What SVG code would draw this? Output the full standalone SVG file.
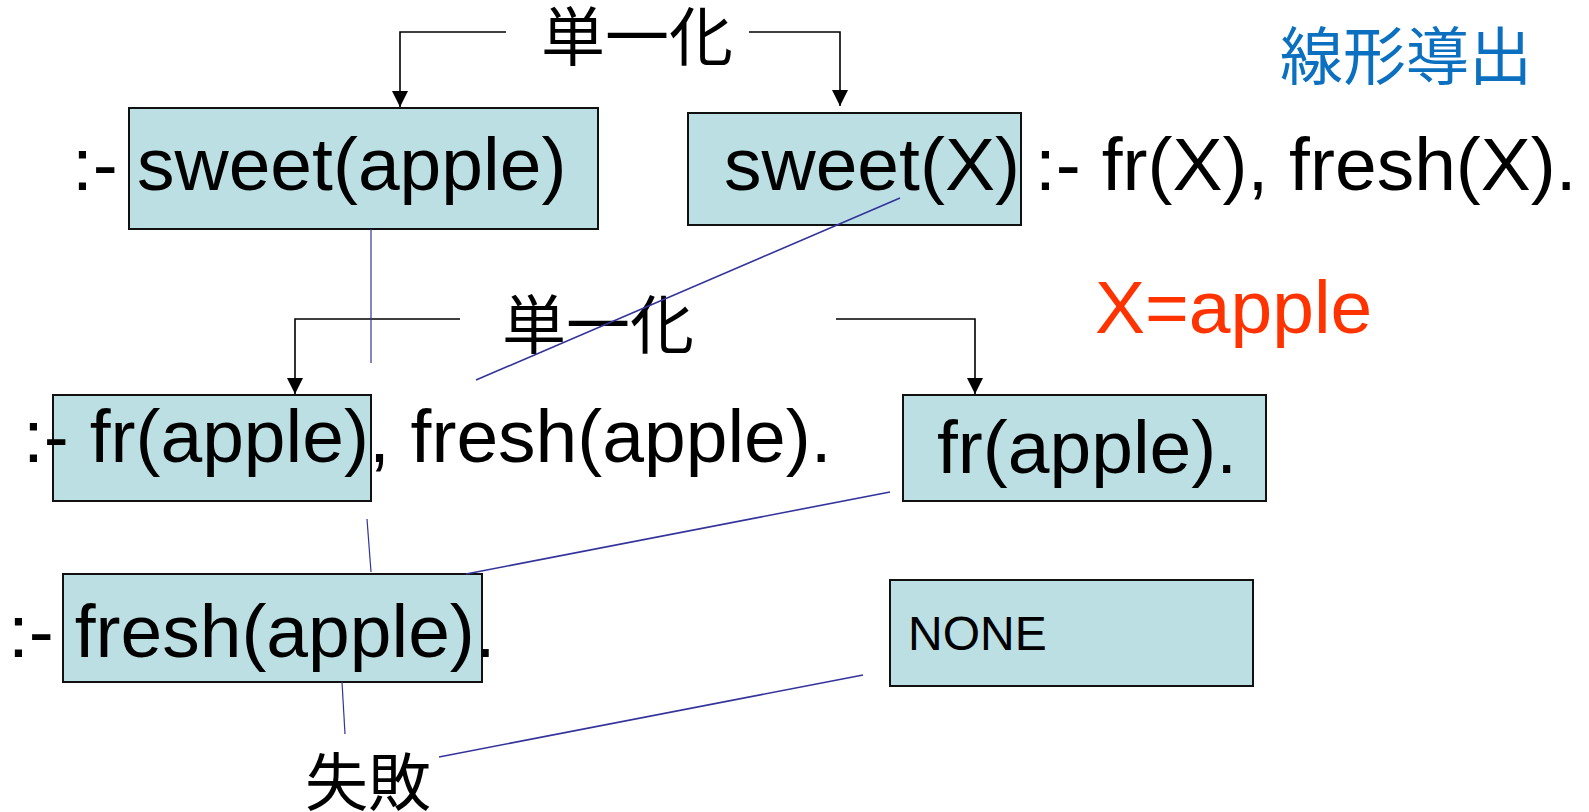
<svg xmlns="http://www.w3.org/2000/svg" width="1589" height="812" viewBox="0 0 1589 812">
  <style>
    .box { fill: #bbdfe3; stroke: #111; stroke-width: 2; }
    .term { font-family: "Liberation Sans", Arial, sans-serif; font-size: 75px; fill: #000; }
    .small { font-family: "Liberation Sans", Arial, sans-serif; font-size: 48px; fill: #000; }
    .jp { font-family: "Noto Sans CJK JP", "Noto Sans CJK SC", sans-serif; font-size: 64px; fill: #000; }
    .arrow { fill: none; stroke: #000; stroke-width: 1.6; marker-end: url(#head); }
    .link { fill: none; stroke: #33339c; stroke-width: 1.6; }
  </style>
  <defs>
    <marker id="head" markerUnits="userSpaceOnUse" markerWidth="16" markerHeight="18" refX="16" refY="8" orient="auto">
      <path d="M0,0 L16,8 L0,16 Z" fill="#000"/>
    </marker>
  </defs>

  <rect width="1589" height="812" fill="#fff"/>

  <!-- goal: sweet(apple) -->
  <g id="goal-sweet">
    <rect class="box" x="129" y="108" width="469" height="121"/>
    <text class="term" x="72" y="190">:-</text>
    <text class="term" x="137" y="190">sweet(apple)</text>
  </g>

  <!-- program clause head: sweet(X) -->
  <g id="clause-sweet">
    <rect class="box" x="688" y="113" width="333" height="112"/>
    <text class="term" x="724" y="190">sweet(X)</text>
    <text class="term" x="1035" y="190">:- fr(X), fresh(X).</text>
  </g>

  <!-- resolvent: fr(apple), fresh(apple) -->
  <g id="goal-fr">
    <rect class="box" x="53" y="395" width="318" height="106"/>
    <text class="term" x="23" y="462">:- fr(apple), fresh(apple).</text>
  </g>

  <!-- fact: fr(apple). -->
  <g id="fact-fr">
    <rect class="box" x="903" y="395" width="363" height="106"/>
    <text class="term" x="937" y="473">fr(apple).</text>
  </g>

  <!-- goal: fresh(apple) -->
  <g id="goal-fresh">
    <rect class="box" x="63" y="574" width="419" height="108"/>
    <text class="term" x="8" y="657">:- fresh(apple).</text>
  </g>

  <!-- no matching clause -->
  <g id="none">
    <rect class="box" x="890" y="580" width="363" height="106"/>
    <text class="small" x="908" y="650">NONE</text>
  </g>

  <!-- annotations -->
  <g id="labels">
    <text class="jp" x="541" y="60">単一化</text>
    <text class="jp" x="502" y="348">単一化</text>
    <text class="jp" x="1280" y="79" style="font-size:63px; fill:#0c70c0">線形導出</text>
    <text class="term" x="1095" y="333" style="fill:#ff3300">X=apple</text>
    <text class="jp" x="305" y="805" style="font-size:63px">失敗</text>
  </g>

  <!-- connectors -->
  <g id="connectors">
    <path class="arrow" d="M506,32 H400 V107"/>
    <path class="arrow" d="M749,32 H840 V106"/>
    <path class="arrow" d="M460,319 H295 V394"/>
    <path class="arrow" d="M836,319 H975 V394"/>

    <line class="link" x1="371" y1="229" x2="371" y2="363" style="stroke-width:1.2"/>
    <line class="link" x1="900" y1="198" x2="476" y2="380"/>
    <line class="link" x1="367" y1="519" x2="371" y2="572" style="stroke-width:1.2"/>
    <line class="link" x1="890" y1="492" x2="466" y2="574"/>
    <line class="link" x1="342" y1="682" x2="345" y2="734" style="stroke-width:1.2"/>
    <line class="link" x1="439" y1="757" x2="863" y2="675"/>
  </g>
</svg>
